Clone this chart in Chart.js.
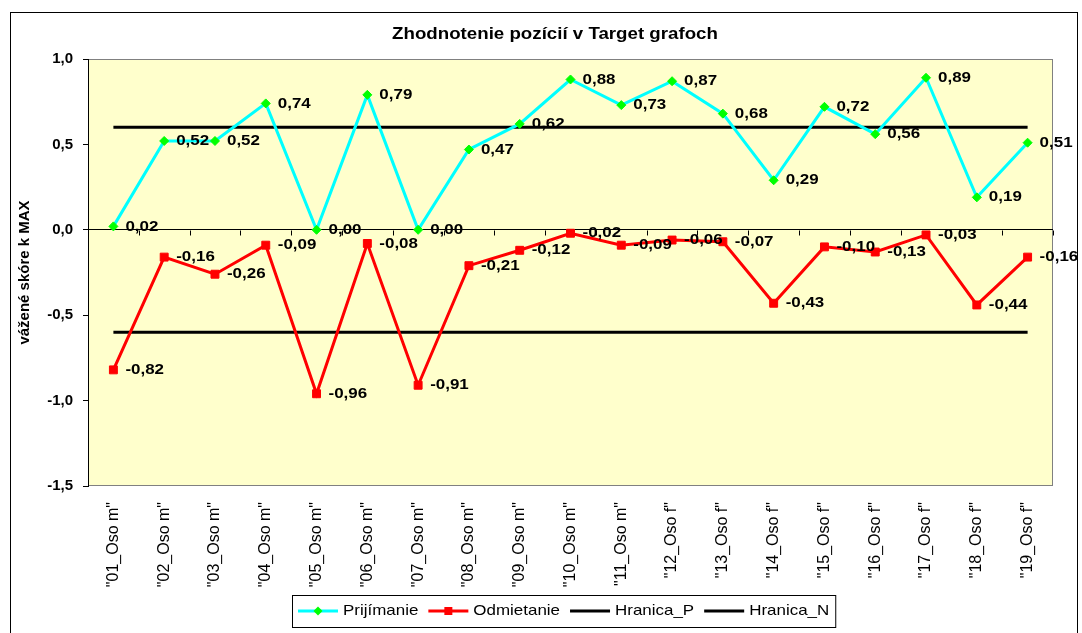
<!DOCTYPE html>
<html>
<head>
<meta charset="utf-8">
<script src="https://cdn.jsdelivr.net/npm/chart.js@4/dist/chart.umd.min.js"></script>
<style>
  html, body { margin: 0; padding: 0; background: #fff; }
  canvas { display: block; }
</style>
</head>
<body>
<canvas id="targetChart" width="1082" height="633"></canvas>
<script>
const categories = ['"01_Oso m"', '"02_Oso m"', '"03_Oso m"', '"04_Oso m"', '"05_Oso m"', '"06_Oso m"',
    '"07_Oso m"', '"08_Oso m"', '"09_Oso m"', '"10_Oso m"', '"11_Oso m"', '"12_Oso f"', '"13_Oso f"',
    '"14_Oso f"', '"15_Oso f"', '"16_Oso f"', '"17_Oso f"', '"18_Oso f"', '"19_Oso f"'];
const prijimanie = [0.02, 0.52, 0.52, 0.74, 0.00, 0.79, 0.00, 0.47, 0.62, 0.88, 0.73, 0.87, 0.68, 0.29, 0.72, 0.56, 0.89, 0.19, 0.51];
const odmietanie = [-0.82, -0.16, -0.26, -0.09, -0.96, -0.08, -0.91, -0.21, -0.12, -0.02, -0.09, -0.06, -0.07, -0.43, -0.10, -0.13, -0.03, -0.44, -0.16];
const hranicaP = categories.map(() => 0.6);
const hranicaN = categories.map(() => -0.6);
const yTicks = [-1.5, -1.0, -0.5, 0.0, 0.5, 1.0];

const chartTitle = 'Zhodnotenie pozícií v Target grafoch';
const FONT = "'Liberation Sans', Arial, sans-serif";
const STRETCH = 1.13;

function comma(v, digits) {
    return v.toFixed(digits).replace('.', ',');
}

function stretchText(ctx, text, x, y, sx, align) {
    ctx.save();
    ctx.translate(x, y);
    ctx.scale(sx, 1);
    ctx.textAlign = align;
    ctx.fillText(text, 0, 0);
    ctx.restore();
}

function drawMarker(ctx, style, x, y, color) {
    ctx.fillStyle = color;
    ctx.beginPath();
    if (style === 'rectRot') {
        ctx.moveTo(x, y - 4.5);
        ctx.lineTo(x + 4.5, y);
        ctx.lineTo(x, y + 4.5);
        ctx.lineTo(x - 4.5, y);
        ctx.closePath();
    } else if (style === 'rect') {
        ctx.rect(x - 4, y - 4, 8, 8);
    }
    ctx.fill();
}

// plot background, frame, data labels, title and legend
const excelLook = {
    id: 'excelLook',
    beforeDraw(chart) {
        const { ctx, chartArea: a } = chart;
        ctx.save();
        ctx.fillStyle = '#fff';
        ctx.fillRect(0, 0, chart.width, chart.height);
        ctx.strokeStyle = '#000';
        ctx.lineWidth = 1;
        ctx.strokeRect(10.5, 12.5, 1067, 640);
        ctx.fillStyle = '#FFFFCC';
        ctx.fillRect(a.left, a.top, a.width, a.height);
        ctx.strokeStyle = '#808080';
        ctx.strokeRect(a.left + 0.5, a.top + 0.5, a.width - 1, a.height - 1);
        ctx.restore();
    },
    beforeDatasetsDraw(chart) {
        const { ctx, scales } = chart;
        const y0 = Math.round(scales.y.getPixelForValue(0)) + 0.5;
        ctx.save();
        ctx.strokeStyle = '#000';
        ctx.lineWidth = 1;
        ctx.beginPath();
        for (let k = 0; k <= categories.length; k++) {
            const x = Math.round(scales.x.getPixelForValue(k - 0.5)) + 0.5;
            ctx.moveTo(x, y0);
            ctx.lineTo(x, y0 + 5);
        }
        ctx.stroke();
        ctx.restore();
    },
    afterDatasetsDraw(chart) {
        const { ctx } = chart;
        ctx.save();
        ctx.fillStyle = '#000';
        ctx.font = 'bold 15px ' + FONT;
        ctx.textBaseline = 'middle';
        [0, 1].forEach(di => {
            const values = chart.data.datasets[di].data;
            chart.getDatasetMeta(di).data.forEach((pt, i) => {
                stretchText(ctx, comma(values[i], 2), pt.x + 12, pt.y, STRETCH, 'left');
            });
        });
        ctx.restore();
    },
    afterDraw(chart) {
        const { ctx } = chart;
        ctx.save();
        ctx.fillStyle = '#000';
        ctx.textBaseline = 'middle';
        ctx.font = 'bold 17px ' + FONT;
        stretchText(ctx, chartTitle, 555, 34, 1.1, 'center');

        // legend
        ctx.font = '15px ' + FONT;
        const items = chart.data.datasets.map(ds => ({
            text: ds.label,
            color: ds.borderColor,
            marker: ds.pointRadius > 0 ? ds.pointStyle : null,
            markerColor: ds.pointBackgroundColor,
            w: ctx.measureText(ds.label).width * STRETCH
        }));
        const lineLen = 40, gap = 5, itemGap = 10, pad = 6;
        const total = pad * 2 + items.reduce((s, it) => s + lineLen + gap + it.w, 0) + itemGap * (items.length - 1);
        const boxLeft = Math.round(564 - total / 2);
        const boxTop = 595, boxH = 32, cy = boxTop + boxH / 2;
        ctx.strokeStyle = '#000';
        ctx.lineWidth = 1;
        ctx.strokeRect(boxLeft + 0.5, boxTop + 0.5, total, boxH);
        let x = boxLeft + pad;
        items.forEach(it => {
            ctx.strokeStyle = it.color;
            ctx.lineWidth = 3;
            ctx.beginPath();
            ctx.moveTo(x, cy);
            ctx.lineTo(x + lineLen, cy);
            ctx.stroke();
            if (it.marker) drawMarker(ctx, it.marker, x + lineLen / 2, cy, it.markerColor);
            ctx.fillStyle = '#000';
            stretchText(ctx, it.text, x + lineLen + gap, cy, STRETCH, 'left');
            x += lineLen + gap + it.w + itemGap;
        });
        ctx.restore();
    }
};

new Chart(document.getElementById('targetChart'), {
    type: 'line',
    data: {
        labels: categories,
        datasets: [{
            label: 'Prijímanie',
            data: prijimanie,
            borderColor: '#00FFFF',
            borderWidth: 3,
            pointStyle: 'rectRot',
            pointRadius: 4.5,
            pointBackgroundColor: '#00FF00',
            pointBorderColor: '#00FF00',
            pointBorderWidth: 1,
            tension: 0
        }, {
            label: 'Odmietanie',
            data: odmietanie,
            borderColor: '#FF0000',
            borderWidth: 3,
            pointStyle: 'rect',
            pointRadius: 5.6,
            pointBackgroundColor: '#FF0000',
            pointBorderColor: '#FF0000',
            pointBorderWidth: 1,
            tension: 0
        }, {
            label: 'Hranica_P',
            data: hranicaP,
            borderColor: '#000000',
            borderWidth: 3,
            pointRadius: 0
        }, {
            label: 'Hranica_N',
            data: hranicaN,
            borderColor: '#000000',
            borderWidth: 3,
            pointRadius: 0
        }]
    },
    options: {
        responsive: false,
        animation: false,
        devicePixelRatio: 1,
        layout: { padding: { left: 10, right: 29, top: 59, bottom: 37 } },
        plugins: {
            legend: { display: false },
            title: { display: false },
            tooltip: { enabled: false }
        },
        scales: {
            x: {
                offset: true,
                grid: { display: false, drawTicks: false },
                border: { display: false },
                ticks: {
                    color: '#000',
                    padding: 16,
                    maxRotation: 90,
                    minRotation: 90,
                    autoSkip: false,
                    font: { family: FONT, size: 16 }
                },
                afterFit(scale) { scale.height = 110; }
            },
            y: {
                min: -1.5,
                max: 1.0,
                afterBuildTicks(scale) { scale.ticks = yTicks.map(v => ({ value: v })); },
                grid: {
                    color: c => (c.tick && c.tick.value === 0 ? '#000' : 'rgba(0,0,0,0)'),
                    tickColor: '#000',
                    tickLength: 5,
                    lineWidth: 1
                },
                border: { display: true, color: '#000', width: 1 },
                ticks: {
                    color: '#000',
                    padding: 10,
                    font: { family: FONT, size: 15, weight: 'bold' },
                    callback: v => comma(v, 1)
                },
                title: {
                    display: true,
                    text: 'vážené skóre k MAX',
                    color: '#000',
                    padding: { top: 6, bottom: 0 },
                    font: { family: FONT, size: 15, weight: 'bold' }
                },
                afterFit(scale) { scale.width = 78; }
            }
        }
    },
    plugins: [excelLook]
});
</script>
</body>
</html>
